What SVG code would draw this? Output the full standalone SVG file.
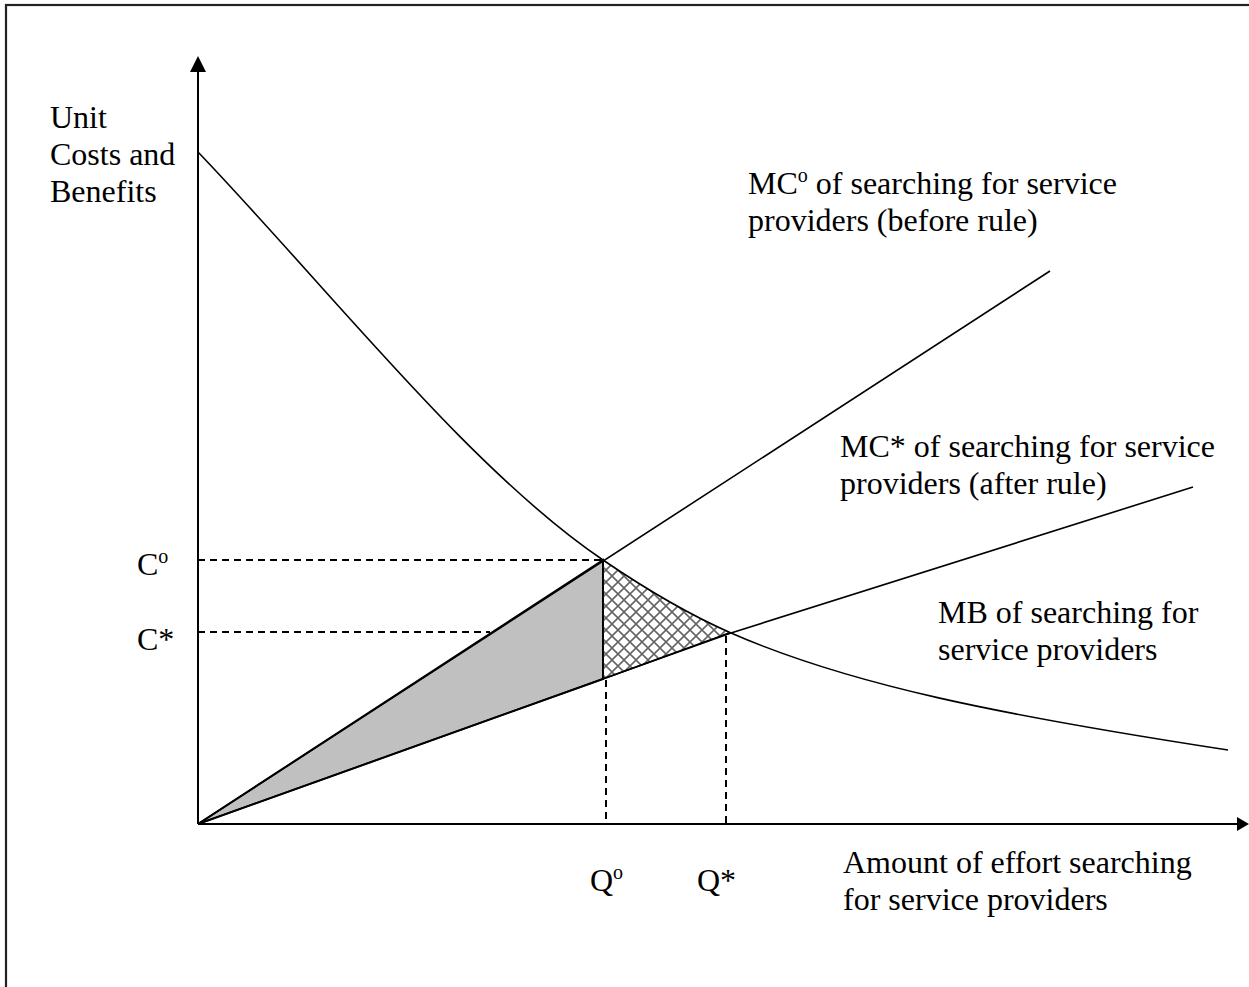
<svg xmlns="http://www.w3.org/2000/svg" width="1249" height="987" viewBox="0 0 1249 987">
<style>
text{font-family:"Liberation Serif","Times New Roman",serif;font-size:32px;fill:#000}
.ln{fill:none;stroke:#000;stroke-width:1.6}
.ds{fill:none;stroke:#000;stroke-width:2;stroke-dasharray:7,5}
.sup{font-size:20px}
</style>
<defs>
<pattern id="hatch" patternUnits="userSpaceOnUse" width="12" height="12">
<path d="M0,0 L12,12 M12,0 L0,12" stroke="#666" stroke-width="1.6" fill="none"/>
</pattern>
</defs>
<rect x="6" y="5" width="1300" height="1100" fill="#fff" stroke="#222" stroke-width="2.2"/>
<g id="regions">
<polygon id="grey" points="198,824 603,560 603,679" fill="#c0c0c0" stroke="#000" stroke-width="2"/>
<path id="hatched" d="M603,560 C650,592 690,615 729,633 L603,679 Z" fill="url(#hatch)" stroke="none"/>
<path d="M603,560 L603,679" class="ln" stroke-width="2.2"/>
<path d="M603,679 L729,633" class="ln" stroke-width="3"/>
</g>
<g id="axes">
<line x1="198" y1="70" x2="198" y2="824" stroke="#000" stroke-width="2"/>
<polygon points="198,56 190,72 206,72" fill="#000"/>
<line x1="198" y1="824" x2="1238" y2="824" stroke="#000" stroke-width="2"/>
<polygon points="1249,824 1237,817 1237,831" fill="#000"/>
</g>
<g id="connectors">
<path id="mb" class="ln" d="M198,152 C330,290 470,470 603,560 C650,592 690,615 731,633 C850,685 1000,715 1228,750"/>
<path id="mco" class="ln" d="M198,824 L1050,271"/>
<path id="mcs" class="ln" d="M198,824 L731,633 L1193,487"/>
<path class="ds" d="M198,560 L603,560"/>
<path class="ds" d="M198,632 L490,632"/>
<path class="ds" d="M606,680 L606,824"/>
<path class="ds" d="M726,636 L726,824"/>
</g>
<g id="ylabel"><text x="50" y="128">Unit</text><text x="50" y="165">Costs and</text><text x="50" y="202">Benefits</text></g>
<g id="mco-label"><text x="748" y="194">MC<tspan class="sup" dy="-12">o</tspan><tspan dy="12"> of searching for service</tspan></text><text x="748" y="231">providers (before rule)</text></g>
<g id="mcs-label"><text x="840" y="457">MC* of searching for service</text><text x="840" y="494">providers (after rule)</text></g>
<g id="mb-label"><text x="938" y="623">MB of searching for</text><text x="938" y="660">service providers</text></g>
<g id="x-label"><text x="843" y="873">Amount of effort searching</text><text x="843" y="910">for service providers</text></g>
<g id="co"><text x="137" y="575">C<tspan class="sup" dy="-12">o</tspan></text></g>
<g id="cs"><text x="137" y="650">C*</text></g>
<g id="qo"><text x="590" y="891">Q<tspan class="sup" dy="-12">o</tspan></text></g>
<g id="qs"><text x="697" y="891">Q*</text></g>
</svg>
